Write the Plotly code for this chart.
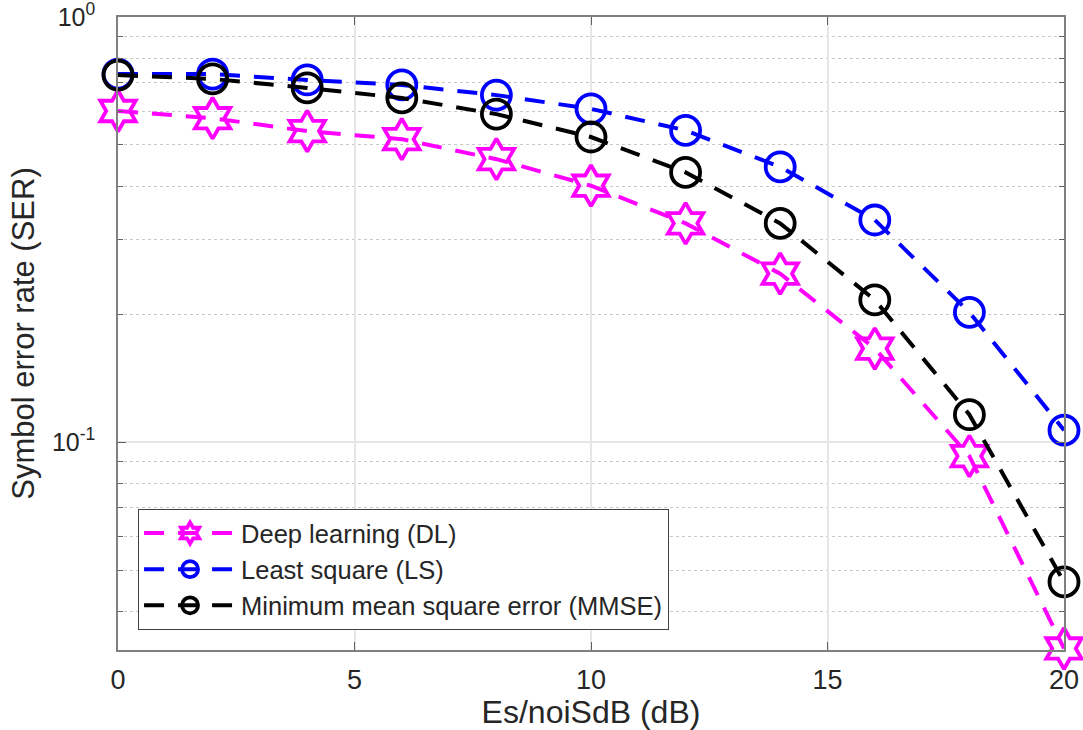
import plotly.graph_objects as go

# Es/N0 sweep (dB)
snr_db = [0, 2, 4, 6, 8, 10, 12, 14, 16, 18, 20]

# Symbol error rate per channel estimator
ser_dl = [0.601, 0.578, 0.539, 0.516, 0.463, 0.401, 0.327, 0.249, 0.166, 0.0927, 0.0327]
ser_ls = [0.734, 0.734, 0.711, 0.692, 0.655, 0.608, 0.541, 0.444, 0.333, 0.202, 0.1067]
ser_mmse = [0.730, 0.715, 0.681, 0.645, 0.591, 0.522, 0.431, 0.327, 0.216, 0.116, 0.0469]

x_ticks = [0, 5, 10, 15, 20]
y_ticks = [0.1, 1]
y_tick_text = ["10<sup>-1</sup>", "10<sup>0</sup>"]

FONT = "Liberation Sans"
TXT = "#262626"

fig = go.Figure()

series = [
    ("Deep learning (DL)", ser_dl, "#ff00ff", "hexagram-open", 31),
    ("Least square (LS)", ser_ls, "#0000ff", "circle-open", 29),
    ("Minimum mean square error (MMSE)", ser_mmse, "#000000", "circle-open", 29),
]
for name, vals, color, symbol, size in series:
    fig.add_trace(go.Scatter(
        x=snr_db, y=vals, name=name, mode="lines+markers",
        line=dict(color=color, width=4, dash="20px,14px"),
        marker=dict(symbol=symbol, size=size, color=color,
                    line=dict(color=color, width=3.8)),
        cliponaxis=False,
    ))

fig.update_layout(
    width=1083, height=730,
    margin=dict(l=118, r=19, t=17, b=80, autoexpand=False),
    paper_bgcolor="white", plot_bgcolor="white",
    font=dict(family=FONT, size=25, color=TXT),
    showlegend=True,
    legend=dict(
        x=0.021, y=0.032, xanchor="left", yanchor="bottom",
        bgcolor="white", bordercolor="#404040", borderwidth=1.2,
        font=dict(family=FONT, size=25.5, color=TXT),
        itemwidth=92, tracegroupgap=0,
    ),
)

fig.update_xaxes(
    range=[0, 20], tickvals=x_ticks, automargin=False,
    title=dict(text="Es/noiSdB (dB)", font=dict(family=FONT, size=32, color=TXT), standoff=9),
    showline=True, linecolor="#808080", linewidth=1.5, mirror="ticks",
    ticks="inside", ticklen=8, tickcolor="#606060", ticklabelstandoff=5,
    showgrid=True, gridcolor="#e6e6e6", gridwidth=1.5,
    zeroline=False, tickfont=dict(family=FONT, size=27, color=TXT),
)

fig.update_yaxes(
    type="log", range=[-1.489, 0], automargin=False,
    tickvals=y_ticks, ticktext=y_tick_text, ticklabeloverflow="allow",
    title=dict(text="Symbol error rate (SER)", font=dict(family=FONT, size=31, color=TXT), standoff=8),
    showline=True, linecolor="#808080", linewidth=1.5, mirror="ticks",
    ticks="inside", ticklen=8, tickcolor="#606060", ticklabelstandoff=16,
    showgrid=True, gridcolor="#e6e6e6", gridwidth=1.5,
    minor=dict(dtick="D1", showgrid=True, gridcolor="#c8c8c8", griddash="dot",
               gridwidth=1, ticks="inside", ticklen=5, tickcolor="#606060"),
    zeroline=False, tickfont=dict(family=FONT, size=25, color=TXT),
)

fig.write_html("out.html")
